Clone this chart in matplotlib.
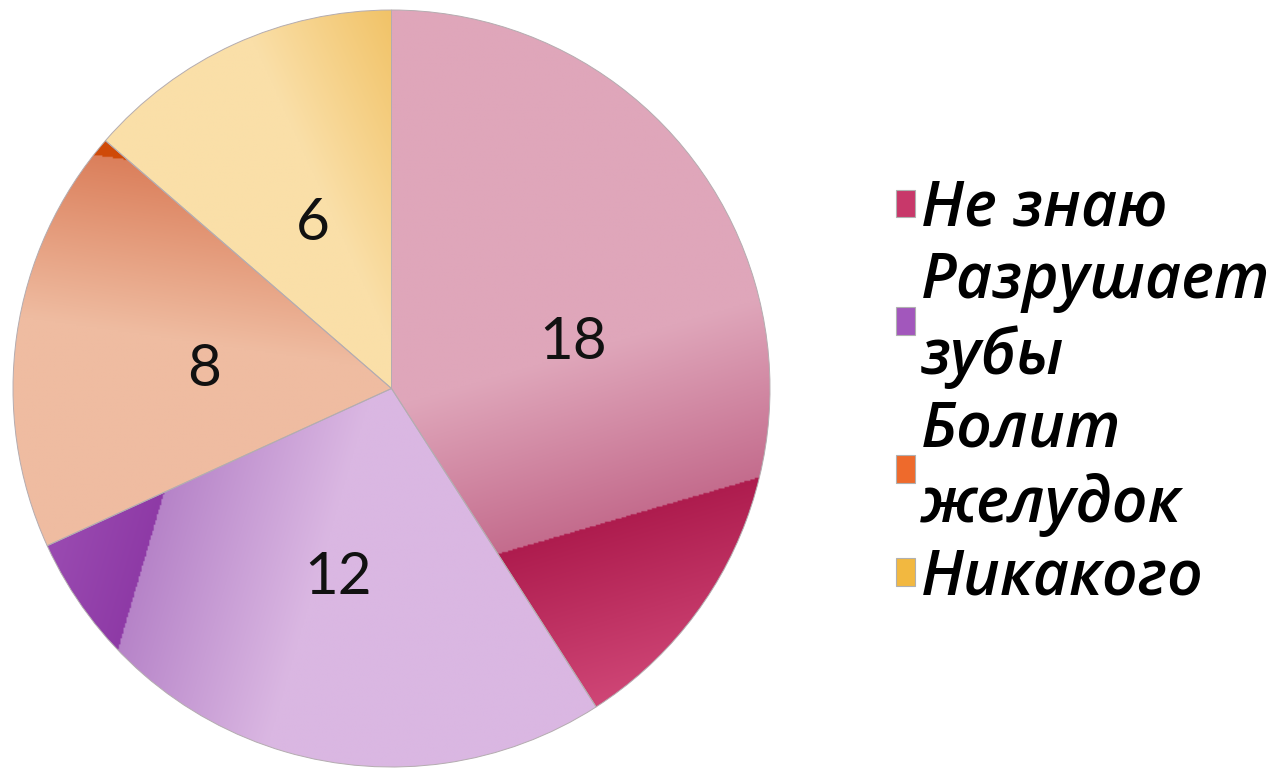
import numpy as np
import matplotlib
matplotlib.use('Agg')
import matplotlib.pyplot as plt
from matplotlib.patches import Patch
from matplotlib.colors import to_rgb

# data
labels = ['Не знаю', 'Разрушает\nзубы', 'Болит\nжелудок', 'Никакого']
values = [18, 12, 8, 6]

# gradient colours per slice: light, mid (at t=0.5), dark start, dark end
shades = [
    ('#dfa6ba', '#c46c8d', '#ae1c4e', '#d24a7a'),
    ('#dab7e2', '#b683c8', '#8e3aa6', '#a65cbc'),
    ('#efbca1', '#db7f5b', '#cf4a08', '#d85a18'),
    ('#fadfa8', '#efbc58', '#e8a020', '#e8a020'),
]
legend_colors = ['#c8386a', '#a257bc', '#ee6a2c', '#f2b840']

W, H = 1279, 771
R = 378.5
cx, cy = 391.5, 388.5
L = 1.02

fig = plt.figure(figsize=(W / 100, H / 100), dpi=100)
half = R * L
ax = fig.add_axes([(cx - half) / W, (H - cy - half) / H, 2 * half / W, 2 * half / H])

total = sum(values)
wedges, texts, autotexts = ax.pie(
    values, startangle=90, counterclock=False, radius=1,
    autopct=lambda p: f'{p * total / 100:.0f}', pctdistance=0.5,
    wedgeprops=dict(edgecolor='#b4acb0', linewidth=0.7),
    textprops=dict(fontsize=42, family=['Lato', 'DejaVu Sans'], color='#111111'))


def shade(w, cols):
    mid = np.deg2rad((w.theta1 + w.theta2) / 2)
    dx, dy = np.sin(mid), -np.cos(mid)
    g = np.linspace(-1, 1, 500)
    X, Y = np.meshgrid(g, g)
    t = X * dx + Y * dy
    light, midc, d0, d1 = [np.array(to_rgb(c)) for c in cols]
    a = np.clip((t - 0.05) / 0.45, 0, 1)[..., None]
    img = light * (1 - a) + midc * a
    b = np.clip((t - 0.5) / 0.5, 0, 1)[..., None]
    dark = d0 * (1 - b) + d1 * b
    img = np.where((t > 0.5)[..., None], dark, img)
    im = ax.imshow(img, extent=(-1, 1, -1, 1), origin='lower', zorder=2,
                   interpolation='bilinear')
    im.set_clip_path(w)
    w.set_facecolor('none')
    w.set_zorder(3)


for w, c in zip(wedges, shades):
    shade(w, c)
for t in autotexts:
    x, y = t.get_position()
    t.set_position((x, y - 0.02))
    t.set_zorder(5)

ax.set_xlim(-L, L)
ax.set_ylim(-L, L)
ax.set_aspect('equal')
ax.axis('off')

handles = [Patch(facecolor=c, edgecolor='#b0b0b0', linewidth=0.8) for c in legend_colors]
leg = fig.legend(handles, labels, loc='upper left', bbox_to_anchor=(896 / W, 1 - 178 / H),
                 frameon=False, borderpad=0, borderaxespad=0,
                 handlelength=0.3, handleheight=0.3, handletextpad=0.1,
                 labelspacing=0.15,
                 prop=dict(family=['Open Sans', 'Noto Sans', 'DejaVu Sans'],
                           weight='semibold', style='italic', size=45))
for t in leg.get_texts():
    t.set_linespacing(1.24)

fig.savefig('out.png', dpi=100)
